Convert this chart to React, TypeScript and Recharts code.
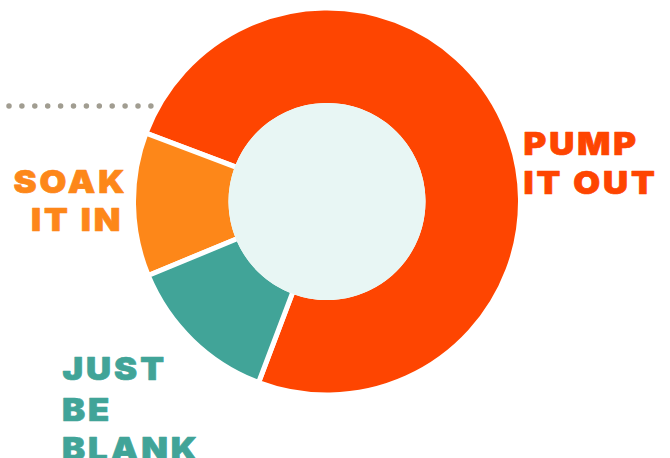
import React from 'react';
import { PieChart, Pie, Cell, Customized } from 'recharts';

const categories = ['PUMP IT OUT', 'SOAK IT IN', 'JUST BE BLANK'];
const values = [75, 12, 13];
const colors = ['#FE4501', '#FD8719', '#41A498'];
const labelLines = [['PUMP', 'IT OUT'], ['SOAK', 'IT IN'], ['JUST', 'BE', 'BLANK']];
const centerValue = [1];

const data = categories.map((name, i) => ({ name, value: values[i] }));
const centerData = centerValue.map((v) => ({ name: 'center', value: v }));

const labelPos = [
  { x: [523.5, 523.5], y: [155, 193.5] },
  { x: [13.5, 31], y: [192.5, 230.5] },
  { x: [62.5, 62, 62], y: [380, 421, 459.5] },
];

const Overlay = () => (
  <g>
    <line
      x1={9}
      y1={106}
      x2={152}
      y2={106}
      stroke="#A19D91"
      strokeWidth={5.5}
      strokeLinecap="round"
      strokeDasharray="0 12.9"
    />
    {labelLines.map((lines, i) =>
      lines.map((t, j) => (
        <text
          key={`${i}-${j}`}
          transform={`translate(${labelPos[i].x[j]},${labelPos[i].y[j]}) scale(1.1,1)`}
          x={0}
          y={0}
          fill={colors[i]}
          stroke={colors[i]}
          strokeWidth={0.7}
          strokeLinejoin="round"
          fontFamily="Inter, sans-serif"
          fontWeight={900}
          fontSize={31.5}
          letterSpacing={2.7}
        >
          {t}
        </text>
      ))
    )}
  </g>
);

export default function App() {
  return (
    <div style={{ position: 'absolute', left: 0, top: 0, width: 670, height: 458, background: '#fff' }}>
      <PieChart width={670} height={458} margin={{ top: 0, right: 0, bottom: 0, left: 0 }}>
        <Pie
          data={data}
          dataKey="value"
          nameKey="name"
          cx={327}
          cy={201.5}
          innerRadius={96}
          outerRadius={193.5}
          startAngle={-110.7}
          endAngle={249.3}
          stroke="#ffffff"
          strokeWidth={5}
          isAnimationActive={false}
        >
          {data.map((d, i) => (
            <Cell key={d.name} fill={colors[i]} />
          ))}
        </Pie>
        <Pie
          data={centerData}
          dataKey="value"
          cx={327}
          cy={201.5}
          innerRadius={0}
          outerRadius={98.5}
          fill="#E8F6F4"
          stroke="none"
          isAnimationActive={false}
        />
        <Customized component={Overlay} />
      </PieChart>
    </div>
  );
}
